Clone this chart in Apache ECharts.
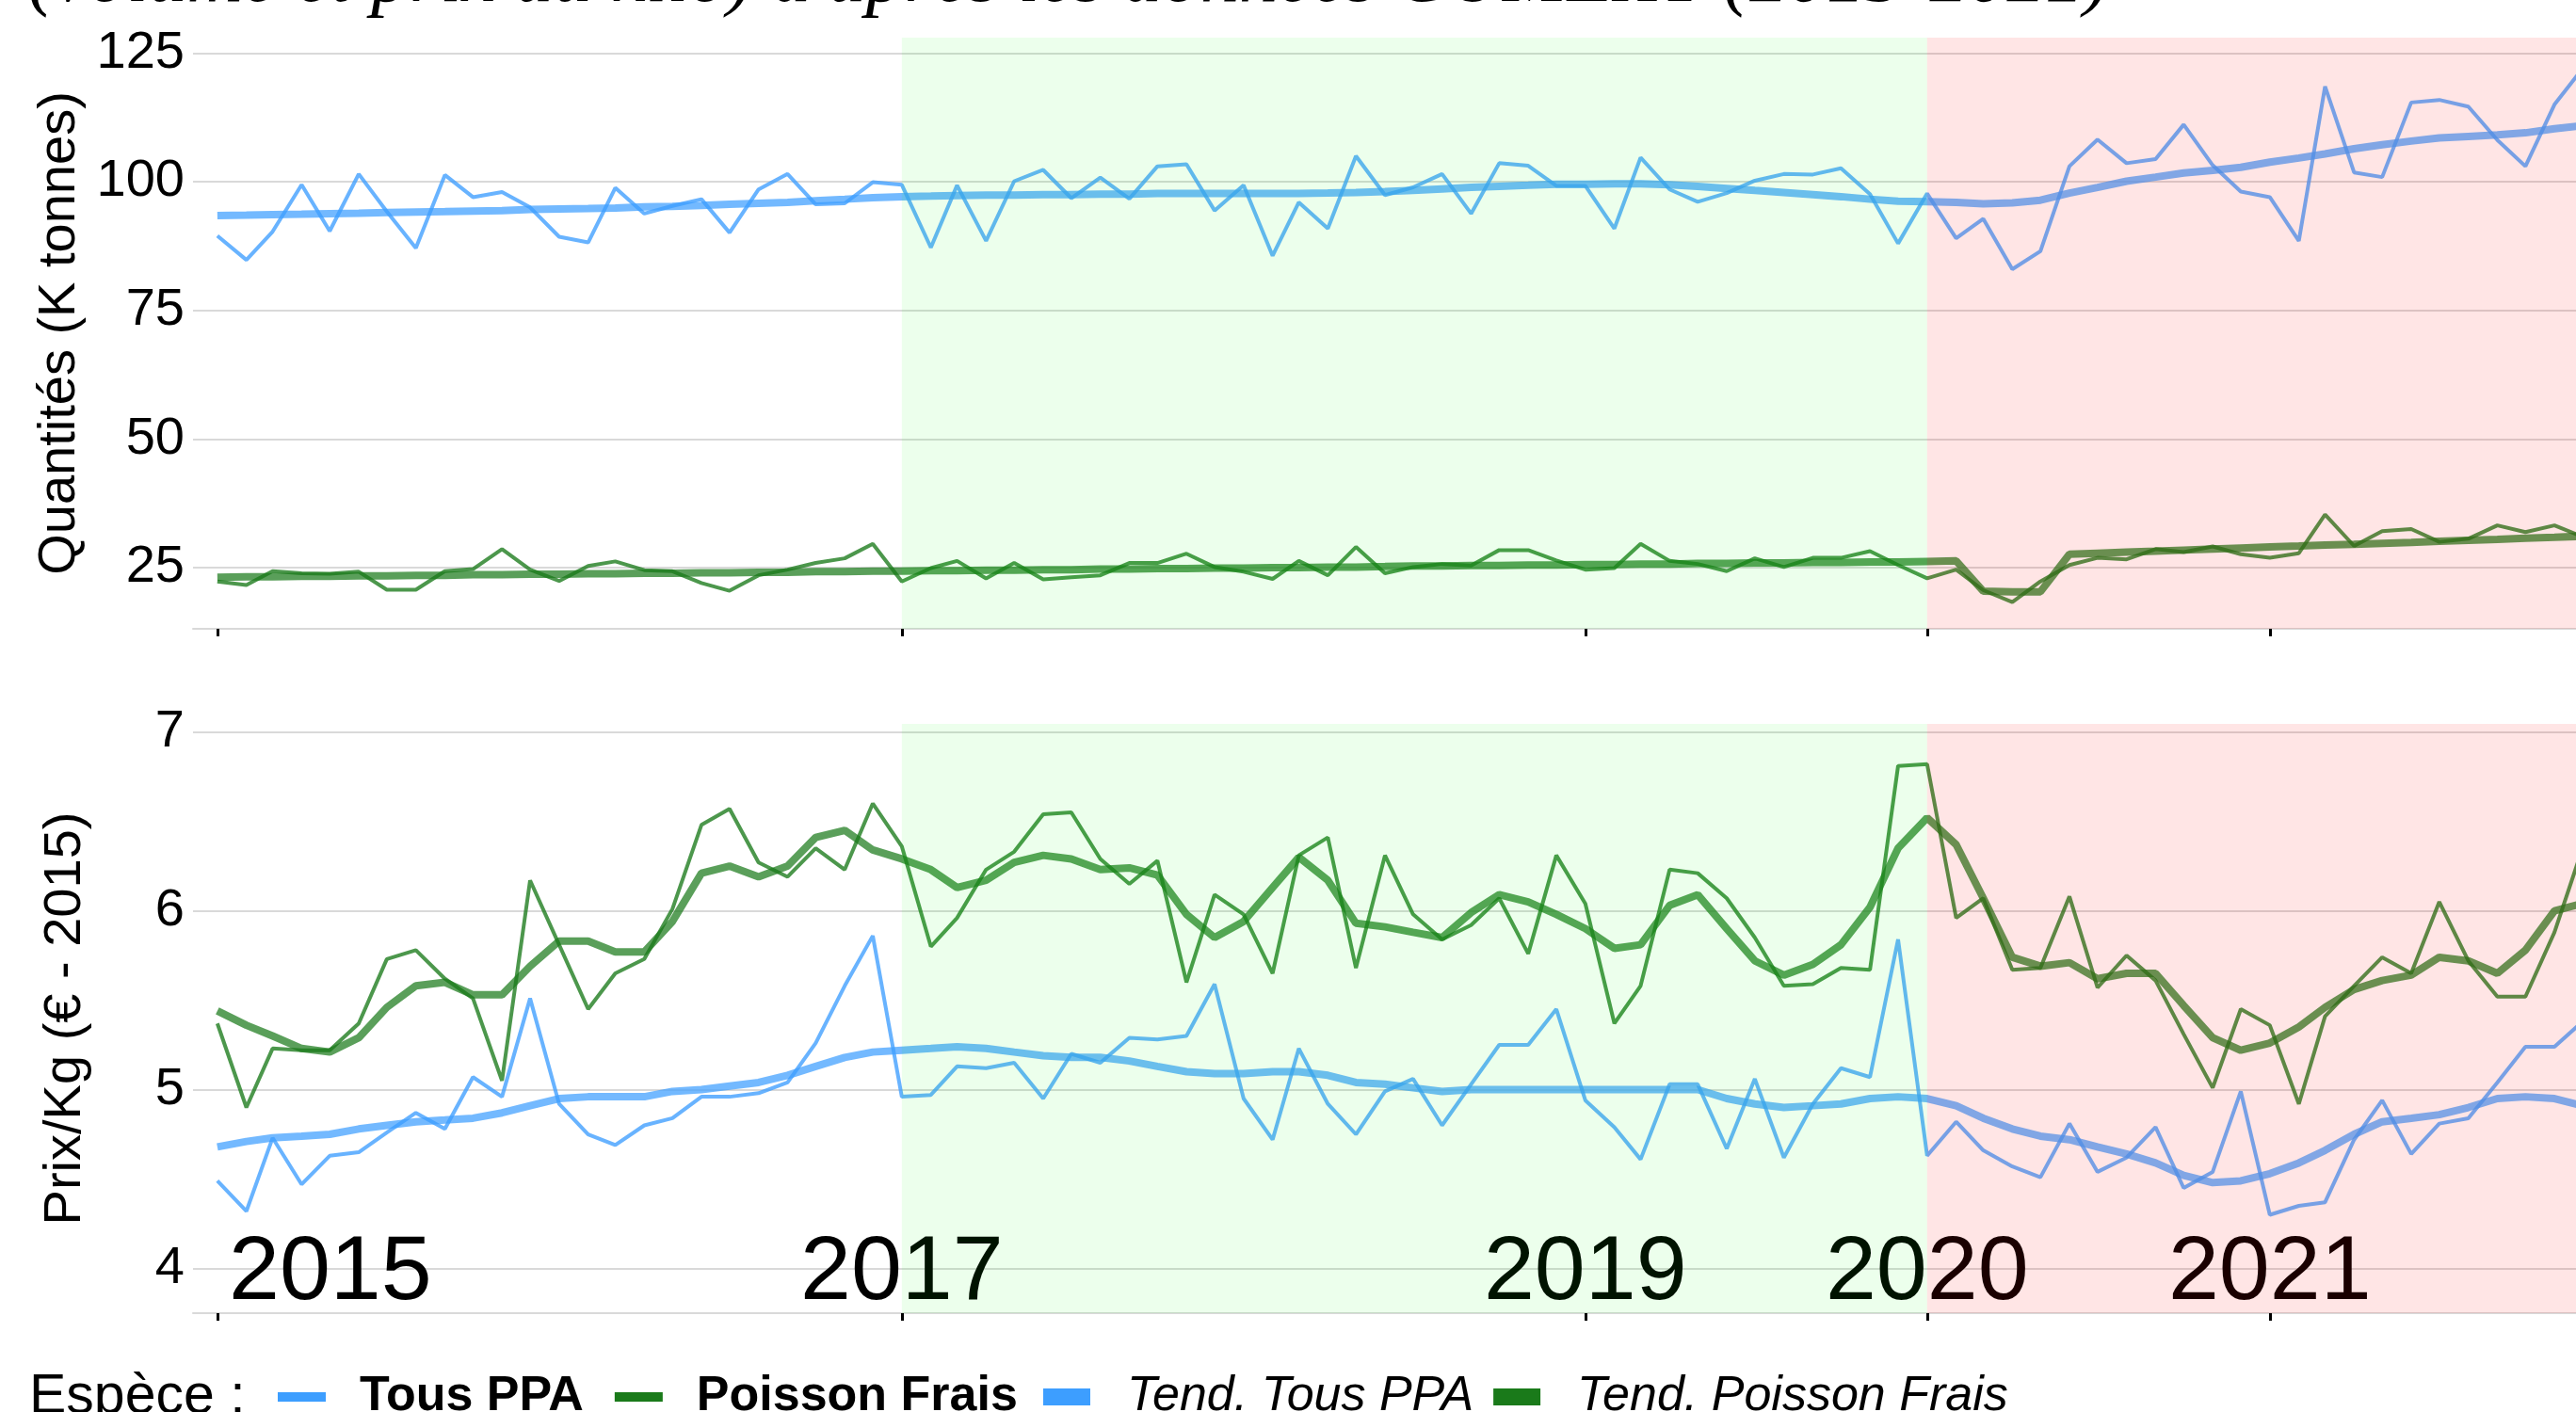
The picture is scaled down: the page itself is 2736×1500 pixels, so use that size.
<!DOCTYPE html>
<html><head><meta charset="utf-8">
<script src="https://cdn.jsdelivr.net/npm/echarts@6/dist/echarts.min.js"></script>
<style>html,body{margin:0;padding:0;background:#fff}#c{width:2736px;height:1500px}</style>
</head><body><div id="c"></div>
<script>
const years = [2015, 2016, 2017, 2018, 2019, 2020, 2021];
const tickYears = [2015, 2017, 2019, 2020, 2021];
const qtyTicks = [25, 50, 75, 100, 125];
const prixTicks = [4, 5, 6, 7];
const xMin = Date.UTC(2014, 11, 6);
const xMax = Date.UTC(2021, 10, 24);
const periodeVerte = [Date.UTC(2017, 0, 1), Date.UTC(2020, 0, 1)];
const periodeRose = [Date.UTC(2020, 0, 1), xMax];

const qtyTousPPA = [89.5, 84.8, 90.3, 99.4, 90.4, 101.5, 94.2, 87.1, 101.3, 97.0, 98.0, 95.0,
  89.3, 88.2, 98.8, 93.8, 95.3, 96.6, 90.1, 98.5, 101.5, 95.6, 95.8, 99.9,
  99.4, 87.2, 99.3, 88.5, 100.1, 102.3, 96.8, 100.8, 96.7, 103.0, 103.4, 94.4,
  99.3, 85.6, 96.0, 90.9, 105.0, 97.4, 98.9, 101.5, 93.8, 103.6, 103.1, 99.2,
  99.2, 90.9, 104.7, 98.5, 96.1, 97.8, 100.2, 101.5, 101.4, 102.6, 97.6, 88.0,
  97.7, 89.0, 92.8, 83.0, 86.5, 103.0, 108.2, 103.6, 104.4, 111.1, 103.2, 98.1,
  97.0, 88.5, 118.5, 101.8, 100.9, 115.4, 115.9, 114.6, 108.1, 103.0, 115.0, 122.0];
const qtyTendTousPPA = [93.4, 93.5, 93.6, 93.7, 93.8, 93.9, 94.0, 94.1, 94.2, 94.3, 94.4, 94.6,
  94.7, 94.8, 94.9, 95.1, 95.2, 95.4, 95.6, 95.8, 96.0, 96.3, 96.6, 96.9,
  97.1, 97.2, 97.3, 97.4, 97.4, 97.5, 97.5, 97.6, 97.6, 97.7, 97.7, 97.7,
  97.7, 97.7, 97.7, 97.8, 97.9, 98.1, 98.3, 98.6, 98.9, 99.1, 99.3, 99.5,
  99.5, 99.6, 99.6, 99.4, 99.1, 98.7, 98.3, 97.9, 97.5, 97.1, 96.6, 96.2,
  96.1, 96.0, 95.7, 95.9, 96.4, 97.8, 98.9, 100.1, 100.9, 101.7, 102.2, 102.8,
  103.8, 104.6, 105.4, 106.4, 107.2, 107.9, 108.5, 108.8, 109.1, 109.5, 110.3, 110.9];
const qtyPoisson = [22.3, 21.6, 24.3, 23.9, 23.8, 24.2, 20.7, 20.7, 24.3, 24.7, 28.6, 24.6,
  22.4, 25.3, 26.2, 24.5, 24.3, 22.0, 20.5, 23.5, 24.6, 25.9, 26.8, 29.6,
  22.3, 24.9, 26.3, 22.9, 25.9, 22.7, 23.1, 23.5, 25.9, 25.9, 27.7, 25.1,
  24.2, 22.8, 26.3, 23.5, 29.0, 23.9, 25.1, 25.7, 25.4, 28.4, 28.4, 26.4,
  24.6, 24.9, 29.6, 26.3, 25.7, 24.3, 26.8, 25.1, 26.9, 26.9, 28.2, 25.5,
  22.9, 24.6, 20.6, 18.3, 22.3, 25.5, 26.9, 26.6, 28.6, 28.0, 29.1, 27.6,
  26.9, 27.8, 35.3, 29.2, 32.1, 32.5, 30.0, 30.6, 33.2, 31.9, 33.2, 31.0];
const qtyTendPoisson = [23.1, 23.2, 23.2, 23.3, 23.3, 23.4, 23.4, 23.5, 23.5, 23.6, 23.6, 23.7,
  23.7, 23.8, 23.8, 23.9, 23.9, 24.0, 24.0, 24.1, 24.1, 24.2, 24.2, 24.3,
  24.3, 24.4, 24.4, 24.5, 24.5, 24.6, 24.6, 24.7, 24.7, 24.8, 24.8, 24.9,
  24.9, 25.0, 25.0, 25.1, 25.1, 25.2, 25.3, 25.3, 25.4, 25.4, 25.5, 25.5,
  25.6, 25.6, 25.7, 25.7, 25.8, 25.8, 25.9, 25.9, 26.0, 26.0, 26.1, 26.1,
  26.2, 26.3, 20.4, 20.3, 20.3, 27.6, 27.8, 28.0, 28.2, 28.4, 28.6, 28.8,
  29.0, 29.2, 29.4, 29.5, 29.7, 29.9, 30.1, 30.3, 30.5, 30.7, 30.9, 31.1];
const prixTousPPA = [4.49, 4.32, 4.73, 4.47, 4.63, 4.65, 4.76, 4.87, 4.78, 5.07, 4.96, 5.51,
  4.92, 4.75, 4.69, 4.80, 4.84, 4.96, 4.96, 4.98, 5.04, 5.26, 5.58, 5.86,
  4.96, 4.97, 5.13, 5.12, 5.15, 4.95, 5.20, 5.15, 5.29, 5.28, 5.30, 5.59,
  4.95, 4.72, 5.23, 4.92, 4.75, 4.99, 5.06, 4.80, 5.03, 5.25, 5.25, 5.45,
  4.94, 4.79, 4.61, 5.03, 5.03, 4.67, 5.06, 4.62, 4.92, 5.12, 5.07, 5.84,
  4.63, 4.82, 4.66, 4.57, 4.51, 4.81, 4.54, 4.62, 4.79, 4.45, 4.54, 4.99,
  4.30, 4.35, 4.37, 4.72, 4.94, 4.64, 4.81, 4.84, 5.04, 5.24, 5.24, 5.38];
const prixTendTousPPA = [4.68, 4.71, 4.73, 4.74, 4.75, 4.78, 4.80, 4.82, 4.83, 4.84, 4.87, 4.91,
  4.95, 4.96, 4.96, 4.96, 4.99, 5.00, 5.02, 5.04, 5.08, 5.13, 5.18, 5.21,
  5.22, 5.23, 5.24, 5.23, 5.21, 5.19, 5.18, 5.18, 5.16, 5.13, 5.10, 5.09,
  5.09, 5.10, 5.10, 5.08, 5.04, 5.03, 5.01, 4.99, 5.00, 5.00, 5.00, 5.00,
  5.00, 5.00, 5.00, 5.00, 5.00, 4.95, 4.92, 4.90, 4.91, 4.92, 4.95, 4.96,
  4.95, 4.91, 4.84, 4.78, 4.74, 4.72, 4.68, 4.64, 4.59, 4.52, 4.48, 4.49,
  4.53, 4.59, 4.66, 4.75, 4.82, 4.84, 4.86, 4.90, 4.95, 4.96, 4.95, 4.91];
const prixPoisson = [5.37, 4.90, 5.23, 5.22, 5.22, 5.37, 5.73, 5.78, 5.62, 5.51, 5.05, 6.17,
  5.81, 5.45, 5.65, 5.73, 6.01, 6.48, 6.57, 6.27, 6.19, 6.35, 6.23, 6.60,
  6.36, 5.80, 5.96, 6.23, 6.33, 6.54, 6.55, 6.29, 6.15, 6.28, 5.60, 6.09,
  5.98, 5.65, 6.31, 6.41, 5.68, 6.31, 5.98, 5.84, 5.92, 6.07, 5.76, 6.31,
  6.04, 5.37, 5.58, 6.23, 6.21, 6.07, 5.85, 5.58, 5.59, 5.68, 5.67, 6.81,
  6.82, 5.96, 6.07, 5.67, 5.68, 6.08, 5.57, 5.75, 5.61, 5.31, 5.01, 5.45,
  5.36, 4.92, 5.41, 5.58, 5.74, 5.65, 6.05, 5.72, 5.52, 5.52, 5.88, 6.35];
const prixTendPoisson = [5.44, 5.36, 5.30, 5.23, 5.21, 5.29, 5.46, 5.58, 5.60, 5.53, 5.53, 5.69,
  5.83, 5.83, 5.77, 5.77, 5.94, 6.21, 6.25, 6.19, 6.25, 6.41, 6.45, 6.34,
  6.29, 6.23, 6.13, 6.17, 6.27, 6.31, 6.29, 6.23, 6.24, 6.20, 5.98, 5.85,
  5.94, 6.13, 6.30, 6.17, 5.93, 5.91, 5.88, 5.85, 5.99, 6.09, 6.05, 5.98,
  5.90, 5.79, 5.81, 6.03, 6.09, 5.90, 5.72, 5.64, 5.70, 5.81, 6.02, 6.35,
  6.52, 6.37, 6.07, 5.74, 5.69, 5.71, 5.62, 5.65, 5.65, 5.47, 5.29, 5.22,
  5.26, 5.35, 5.46, 5.56, 5.61, 5.64, 5.74, 5.72, 5.65, 5.78, 6.00, 6.04];

const months = [];
years.forEach(y => { for (let m = 0; m < 12; m++) months.push(Date.UTC(y, m, 1)); });
const yearTicks = tickYears.map(y => Date.UTC(y, 0, 1));
const zip = vals => months.map((d, i) => [d, vals[i]]);

const BLUE = '#3d9eff', GREEN = '#1a7a1a';
const FONT = '"Liberation Sans", Arial, sans-serif';

function rawLine(name, vals, color, gi) {
  return { name, type: 'line', xAxisIndex: gi, yAxisIndex: gi, data: zip(vals), showSymbol: false, z: 2,
    lineStyle: { color, width: 4, opacity: 0.78 }, itemStyle: { color }, emphasis: { disabled: true } };
}
function trendLine(name, vals, color, gi) {
  return { name, type: 'line', xAxisIndex: gi, yAxisIndex: gi, data: zip(vals), showSymbol: false, z: 3,
    lineStyle: { color, width: 8, opacity: 0.72 }, itemStyle: { color }, emphasis: { disabled: true } };
}
function overlay(gi, vals) {
  return { name: 'zones' + gi, type: 'line', xAxisIndex: gi, yAxisIndex: gi, data: zip(vals), showSymbol: false, z: 10,
    silent: true, lineStyle: { opacity: 0 },
    markArea: { silent: true, z: 10, data: [
      [{ xAxis: periodeVerte[0], itemStyle: { color: 'rgba(0,255,0,0.075)' } }, { xAxis: periodeVerte[1] }],
      [{ xAxis: periodeRose[0], itemStyle: { color: 'rgba(255,0,0,0.1)' } }, { xAxis: periodeRose[1] }]
    ] } };
}
function xAxis(gi) {
  return { type: 'value', gridIndex: gi, min: xMin, max: xMax,
    axisLine: { show: true, lineStyle: { color: '#d9d9d9', width: 2 } },
    axisTick: { show: true, customValues: yearTicks, length: 8, lineStyle: { color: '#000', width: 3 } },
    splitLine: { show: false },
    axisLabel: gi === 0 ? { show: false } : {
      show: true, customValues: yearTicks, inside: true, margin: -7, color: '#000', fontSize: 97, fontFamily: FONT,
      formatter: v => { const y = new Date(v).getUTCFullYear(); return y === 2015 ? '{s|' + y + '}' : String(y); },
      rich: { s: { fontSize: 97, fontFamily: FONT, color: '#000', padding: [0, 0, 0, 240] } }
    } };
}
function yAxis(gi, min, max, ticks, name) {
  return { type: 'value', gridIndex: gi, min, max, name, nameLocation: 'middle', nameGap: 107,
    nameTextStyle: { fontSize: 56, color: '#000', fontFamily: FONT },
    axisLine: { show: false }, axisTick: { show: false, customValues: ticks },
    axisLabel: { customValues: ticks, fontSize: 56, color: '#000', margin: 9, fontFamily: FONT },
    splitLine: { show: true, lineStyle: { color: '#d9d9d9', width: 2 } } };
}

const chart = echarts.init(document.getElementById('c'), null, { renderer: 'canvas' });
chart.setOption({
  animation: false,
  backgroundColor: '#fff',
  textStyle: { fontFamily: FONT },
  grid: [
    { left: 205, right: 0, top: 40, height: 628 },
    { left: 205, right: 0, top: 769, height: 626 }
  ],
  xAxis: [xAxis(0), xAxis(1)],
  yAxis: [yAxis(0, 13.1, 128.0, qtyTicks, 'Quantités (K tonnes)'), yAxis(1, 3.75, 7.045, prixTicks, 'Prix/Kg (€ - 2015)')],
  legend: [
    { data: [{ name: 'Tous PPA', icon: 'rect', itemStyle: { color: BLUE } }, { name: 'Poisson Frais', icon: 'rect', itemStyle: { color: GREEN } }],
      left: 295, top: 1458, padding: 0, itemWidth: 51, itemHeight: 10, itemGap: 33, selectedMode: false,
      textStyle: { fontSize: 52, fontWeight: 'bold', color: '#000', fontFamily: FONT, padding: [0, 0, 0, 31] } },
    { data: [{ name: 'Tend. Tous PPA', icon: 'rect', itemStyle: { color: BLUE } }, { name: 'Tend. Poisson Frais', icon: 'rect', itemStyle: { color: GREEN } }],
      left: 1108, top: 1458, padding: 0, itemWidth: 50, itemHeight: 18, itemGap: 21, selectedMode: false,
      textStyle: { fontSize: 52, fontStyle: 'italic', color: '#000', fontFamily: FONT, padding: [0, 0, 0, 34] } }
  ],
  graphic: [
    { type: 'text', silent: true, style: { text: "(volume et prix au kilo) d'après les données COMEXT (2015-2021)", x: 30, y: 20,
      font: 'italic 82px "Liberation Serif", serif', fill: '#000', verticalAlign: 'bottom' } },
    { type: 'text', silent: true, style: { text: 'Espèce :', x: 31, y: 1485, font: '59px ' + FONT, fill: '#000', verticalAlign: 'middle' } }
  ],
  series: [
    rawLine('Tous PPA', qtyTousPPA, BLUE, 0),
    rawLine('Poisson Frais', qtyPoisson, GREEN, 0),
    trendLine('Tend. Tous PPA', qtyTendTousPPA, BLUE, 0),
    trendLine('Tend. Poisson Frais', qtyTendPoisson, GREEN, 0),
    rawLine('Tous PPA', prixTousPPA, BLUE, 1),
    rawLine('Poisson Frais', prixPoisson, GREEN, 1),
    trendLine('Tend. Tous PPA', prixTendTousPPA, BLUE, 1),
    trendLine('Tend. Poisson Frais', prixTendPoisson, GREEN, 1),
    overlay(0, qtyTendPoisson),
    overlay(1, prixTendPoisson)
  ]
});
</script></body></html>
